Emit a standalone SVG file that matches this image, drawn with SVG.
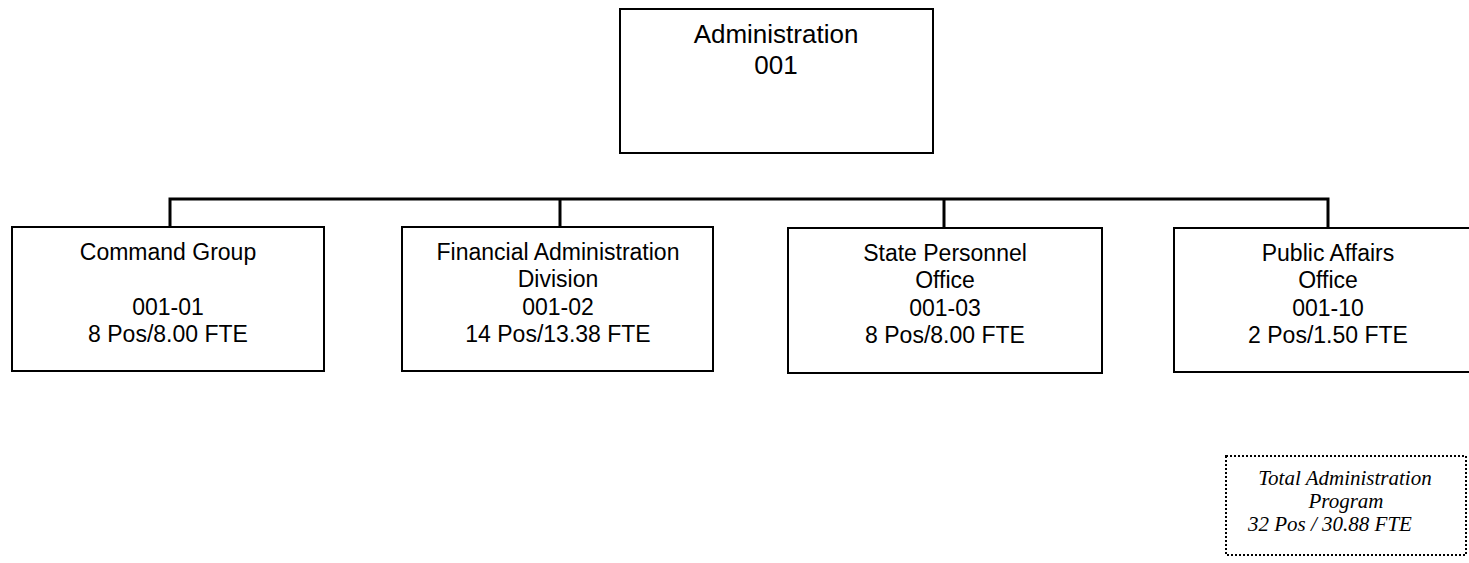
<svg xmlns="http://www.w3.org/2000/svg" width="1469" height="563" viewBox="0 0 1469 563">
<style>
.box{fill:#fff;stroke:#000;stroke-width:2}
.t{font-family:"Liberation Sans",Arial,sans-serif;font-size:23px;fill:#000;text-anchor:middle}
.tt{font-family:"Liberation Sans",Arial,sans-serif;font-size:26px;fill:#000;text-anchor:middle}
.it{font-family:"Liberation Serif","Times New Roman",serif;font-size:21px;font-style:italic;fill:#000}
.c{fill:none;stroke:#000;stroke-width:3}
.dot{fill:#fff;stroke:#000;stroke-width:2;stroke-dasharray:2 2}
</style>
<rect width="1469" height="563" fill="#fff"/>
<g id="connectors">
<path class="c" d="M170 228 V199 H1328 V228"/>
<path class="c" d="M560 199 V228"/>
<path class="c" d="M944 199 V229"/>
</g>
<g id="n-admin">
<rect class="box" x="620" y="9" width="313" height="144"/>
<text class="tt" x="776" y="43">Administration</text>
<text class="tt" x="776" y="74">001</text>
</g>
<g id="n-command">
<rect class="box" x="12" y="227" width="312" height="144"/>
<text class="t" x="168" y="260">Command Group</text>
<text class="t" x="168" y="315">001-01</text>
<text class="t" x="168" y="342">8 Pos/8.00 FTE</text>
</g>
<g id="n-financial">
<rect class="box" x="402" y="227" width="311" height="144"/>
<text class="t" x="558" y="260">Financial Administration</text>
<text class="t" x="558" y="287">Division</text>
<text class="t" x="558" y="315">001-02</text>
<text class="t" x="558" y="342">14 Pos/13.38 FTE</text>
</g>
<g id="n-state">
<rect class="box" x="788" y="228" width="314" height="145"/>
<text class="t" x="945" y="261">State Personnel</text>
<text class="t" x="945" y="288">Office</text>
<text class="t" x="945" y="316">001-03</text>
<text class="t" x="945" y="343">8 Pos/8.00 FTE</text>
</g>
<g id="n-public">
<rect class="box" x="1174" y="228" width="308" height="144"/>
<text class="t" x="1328" y="261">Public Affairs</text>
<text class="t" x="1328" y="288">Office</text>
<text class="t" x="1328" y="316">001-10</text>
<text class="t" x="1328" y="343">2 Pos/1.50 FTE</text>
</g>
<g id="n-total">
<rect class="dot" x="1226" y="456" width="240" height="99"/>
<text class="it" x="1345" y="485" text-anchor="middle">Total Administration</text>
<text class="it" x="1346" y="508" text-anchor="middle">Program</text>
<text class="it" x="1248" y="531">32 Pos / 30.88 FTE</text>
</g>
</svg>
